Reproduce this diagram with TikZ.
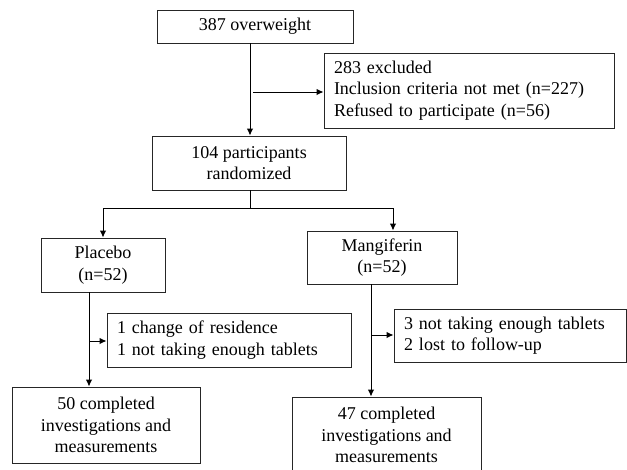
\documentclass[tikz,border=0pt]{standalone}
\usepackage{fontspec}
\setmainfont{Liberation Serif}
\usetikzlibrary{arrows.meta}
\begin{document}
\begin{tikzpicture}[x=1pt,y=-1pt,
  bx/.style 2 args={draw=black!85, line width=0.9pt, minimum width=#1, minimum height=#2,
     inner sep=0pt, align=center, font=\fontsize{18}{21.5}\selectfont},
  lbx/.style 2 args={draw=black!85, line width=0.9pt, minimum width=#1, minimum height=#2,
     text width=#1-20pt, inner xsep=10pt, inner ysep=0pt, align=left, font=\fontsize{18}{21.5}\selectfont},
  conn/.style={draw=black, line width=1pt},
  arr/.style={conn, -{Latex[length=7pt,width=6.5pt]}}]
\clip (0,0) rectangle (627,469);
\fill[white] (0,0) rectangle (627,469);

\node[bx={196pt}{33pt}] (top) at (255,26.5) {387 overweight};
\node[lbx={290pt}{75pt}] (excl) at (469,90.5) {283 excluded\\Inclusion criteria not met (n=227)\\Refused to participate (n=56)};
\node[bx={194pt}{54pt}] (rand) at (249,163) {104 participants\\randomized};
\node[bx={124pt}{54pt}] (plac) at (103,265) {Placebo\\(n=52)};
\node[bx={150pt}{53pt}] (mang) at (382,257.5) {Mangiferin\\(n=52)};
\node[lbx={244pt}{54pt}] (ps) at (229,340) {1 change of residence\\1 not taking enough tablets};
\node[lbx={232pt}{53pt}] (ms) at (510,335.5) {3 not taking enough tablets\\2 lost to follow-up};
\node[bx={188pt}{76pt}] (pc) at (106,425) {50 completed\\investigations and\\measurements};
\node[bx={189pt}{76pt}] (mc) at (386.5,435) {47 completed\\investigations and\\measurements};

\coordinate (t1) at (250,92);
\coordinate (sp) at (250,208);
\coordinate (lp) at (103,208);
\coordinate (rp) at (393,208);
\coordinate (p1) at (89,341);
\coordinate (m1) at (371,335);

\draw[arr] (top.south -| sp) -- (rand.north -| sp);
\draw[arr] ([xshift=3pt]t1) -- (excl.west |- t1);
\draw[conn] (rand.south -| sp) -- (sp);
\draw[conn] (lp) -- (rp);
\draw[arr] (lp) -- (plac.north -| lp);
\draw[arr] (rp) -- (mang.north -| rp);
\draw[arr] (plac.south -| p1) -- (pc.north -| p1);
\draw[arr] (p1) -- (ps.west |- p1);
\draw[arr] (mang.south -| m1) -- (mc.north -| m1);
\draw[arr] (m1) -- (ms.west |- m1);
\end{tikzpicture}
\end{document}
